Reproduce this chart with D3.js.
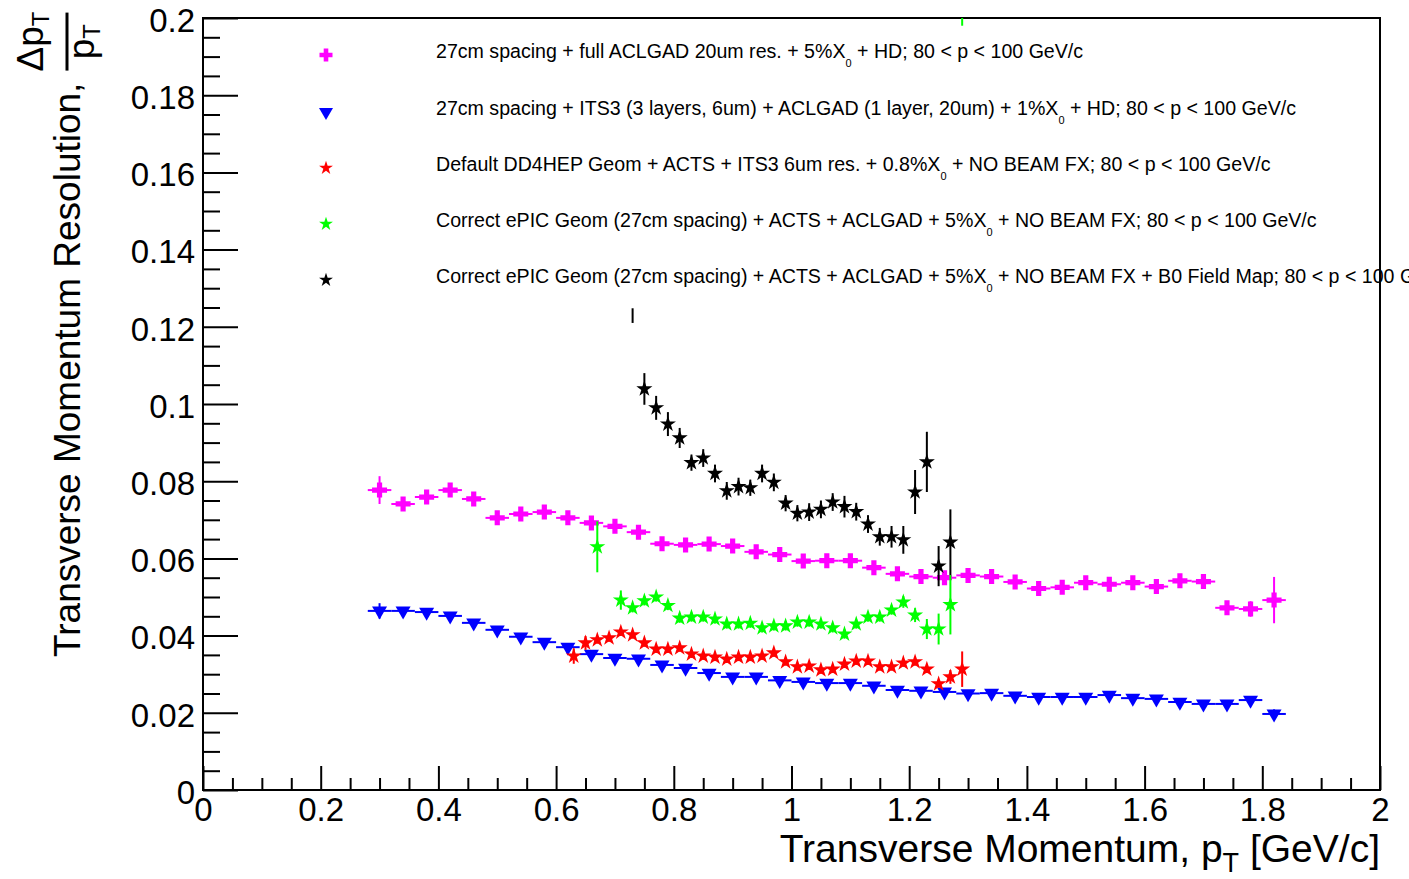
<!DOCTYPE html>
<html>
<head>
<meta charset="utf-8">
<script src="https://cdn.jsdelivr.net/npm/d3@7"></script>
<style>
    body { margin: 0; background: #fff; }
    text { font-family: "Liberation Sans", Arial, Helvetica, sans-serif; fill: #000; }
</style>
</head>
<body>
<svg id="chart" width="1409" height="879"></svg>
<script>
// bin centres and values
const wideX = [0.30, 0.34, 0.38, 0.42, 0.46, 0.50, 0.54, 0.58, 0.62, 0.66, 0.70, 0.74, 0.78,
    0.82, 0.86, 0.90, 0.94, 0.98, 1.02, 1.06, 1.10, 1.14, 1.18, 1.22, 1.26, 1.30, 1.34, 1.38,
    1.42, 1.46, 1.50, 1.54, 1.58, 1.62, 1.66, 1.70, 1.74, 1.78, 1.82];

const magentaY = [0.0777, 0.0741, 0.0759, 0.0777, 0.0754, 0.0705, 0.0715, 0.0720, 0.0705, 0.0692,
    0.0683, 0.0668, 0.0638, 0.0635, 0.0637, 0.0632, 0.0617, 0.0610, 0.0593, 0.0594, 0.0594, 0.0576,
    0.0560, 0.0553, 0.0550, 0.0556, 0.0553, 0.0539, 0.0522, 0.0525, 0.0537, 0.0533, 0.0537, 0.0527,
    0.0542, 0.0540, 0.0472, 0.0469, 0.0492];
const magentaErr = [0.0036, 0.0012, 0.0012, 0.0012, 0.0012, 0.0012, 0.0012, 0.0012, 0.0012, 0.0012,
    0.0012, 0.0012, 0.0012, 0.0012, 0.0012, 0.0012, 0.0012, 0.0012, 0.0012, 0.0012, 0.0012, 0.0012,
    0.0012, 0.0012, 0.0012, 0.0012, 0.0012, 0.0012, 0.0012, 0.0012, 0.0012, 0.0012, 0.0012, 0.0012,
    0.0012, 0.0012, 0.0015, 0.0020, 0.0060];

const blueY = [0.0464, 0.0464, 0.0461, 0.0451, 0.0433, 0.0415, 0.0397, 0.0383, 0.0370, 0.0352,
    0.0342, 0.0340, 0.0324, 0.0316, 0.0303, 0.0293, 0.0293, 0.0284, 0.0280, 0.0277, 0.0277, 0.0270,
    0.0259, 0.0257, 0.0254, 0.0250, 0.0251, 0.0244, 0.0241, 0.0241, 0.0241, 0.0246, 0.0238, 0.0236,
    0.0228, 0.0223, 0.0223, 0.0233, 0.0197];
const blueErr = [0.0020, 0.0008, 0.0008, 0.0008, 0.0008, 0.0008, 0.0008, 0.0008, 0.0008, 0.0008,
    0.0008, 0.0008, 0.0008, 0.0008, 0.0008, 0.0008, 0.0008, 0.0008, 0.0008, 0.0008, 0.0008, 0.0008,
    0.0008, 0.0008, 0.0008, 0.0008, 0.0008, 0.0008, 0.0008, 0.0008, 0.0008, 0.0008, 0.0008, 0.0008,
    0.0008, 0.0008, 0.0008, 0.0008, 0.0012];

const redX = [0.63, 0.65, 0.67, 0.69, 0.71, 0.73, 0.75, 0.77, 0.79, 0.81, 0.83, 0.85, 0.87, 0.89,
    0.91, 0.93, 0.95, 0.97, 0.99, 1.01, 1.03, 1.05, 1.07, 1.09, 1.11, 1.13, 1.15, 1.17, 1.19, 1.21,
    1.23, 1.25, 1.27, 1.29];
const redY = [0.0347, 0.0381, 0.0389, 0.0394, 0.0409, 0.0402, 0.0381, 0.0365, 0.0365, 0.0368,
    0.0352, 0.0347, 0.0344, 0.0339, 0.0344, 0.0344, 0.0347, 0.0355, 0.0332, 0.0319, 0.0321, 0.0311,
    0.0313, 0.0326, 0.0334, 0.0334, 0.0319, 0.0319, 0.0329, 0.0332, 0.0313, 0.0275, 0.0293, 0.0313];
const redErr = [0.0020, 0.0018, 0.0010, 0.0010, 0.0010, 0.0010, 0.0010, 0.0010, 0.0010, 0.0010,
    0.0010, 0.0010, 0.0010, 0.0010, 0.0010, 0.0010, 0.0010, 0.0010, 0.0010, 0.0010, 0.0010, 0.0010,
    0.0010, 0.0010, 0.0010, 0.0010, 0.0010, 0.0010, 0.0010, 0.0010, 0.0010, 0.0010, 0.0018, 0.0046];

const greenX = [0.67, 0.71, 0.73, 0.75, 0.77, 0.79, 0.81, 0.83, 0.85, 0.87, 0.89, 0.91, 0.93, 0.95,
    0.97, 0.99, 1.01, 1.03, 1.05, 1.07, 1.09, 1.11, 1.13, 1.15, 1.17, 1.19, 1.21, 1.23, 1.25, 1.27, 1.29];
const greenY = [0.0630, 0.0492, 0.0472, 0.0490, 0.0500, 0.0478, 0.0445, 0.0448, 0.0448, 0.0443,
    0.0430, 0.0430, 0.0432, 0.0420, 0.0425, 0.0425, 0.0435, 0.0435, 0.0430, 0.0420, 0.0404, 0.0430,
    0.0448, 0.0448, 0.0466, 0.0487, 0.0453, 0.0417, 0.0417, 0.0480, 0.2050];
const greenErr = [0.0066, 0.0025, 0.0012, 0.0012, 0.0012, 0.0012, 0.0012, 0.0012, 0.0012, 0.0012,
    0.0012, 0.0012, 0.0012, 0.0012, 0.0012, 0.0012, 0.0012, 0.0012, 0.0012, 0.0012, 0.0012, 0.0012,
    0.0012, 0.0012, 0.0012, 0.0015, 0.0018, 0.0026, 0.0040, 0.0077, 0.0070];

const blackX = [0.75, 0.77, 0.79, 0.81, 0.83, 0.85, 0.87, 0.89, 0.91, 0.93, 0.95, 0.97, 0.99, 1.01,
    1.03, 1.05, 1.07, 1.09, 1.11, 1.13, 1.15, 1.17, 1.19, 1.21, 1.23, 1.25, 1.27];
const blackY = [0.1039, 0.0990, 0.0948, 0.0912, 0.0848, 0.0860, 0.0820, 0.0775, 0.0786, 0.0783,
    0.0820, 0.0797, 0.0743, 0.0717, 0.0720, 0.0727, 0.0746, 0.0734, 0.0721, 0.0689, 0.0656, 0.0656,
    0.0648, 0.0772, 0.0850, 0.0580, 0.0642];
const blackErr = [0.0041, 0.0031, 0.0031, 0.0026, 0.0021, 0.0023, 0.0023, 0.0023, 0.0023, 0.0021,
    0.0023, 0.0023, 0.0021, 0.0021, 0.0023, 0.0023, 0.0023, 0.0028, 0.0023, 0.0023, 0.0023, 0.0028,
    0.0036, 0.0057, 0.0078, 0.0052, 0.0085];

// lone black error segment with no marker drawn
const blackStrayX = [0.73];
const blackStrayY = [0.1229];
const blackStrayErr = [0.0019];

const xMajor = [0, 0.2, 0.4, 0.6, 0.8, 1, 1.2, 1.4, 1.6, 1.8, 2];
const xMinor = [0.05, 0.1, 0.15, 0.25, 0.3, 0.35, 0.45, 0.5, 0.55, 0.65, 0.7, 0.75, 0.85, 0.9, 0.95,
    1.05, 1.1, 1.15, 1.25, 1.3, 1.35, 1.45, 1.5, 1.55, 1.65, 1.7, 1.75, 1.85, 1.9, 1.95];
const xLabels = ["0", "0.2", "0.4", "0.6", "0.8", "1", "1.2", "1.4", "1.6", "1.8", "2"];
const yMajor = [0, 0.02, 0.04, 0.06, 0.08, 0.1, 0.12, 0.14, 0.16, 0.18, 0.2];
const yMinor = [0.005, 0.01, 0.015, 0.025, 0.03, 0.035, 0.045, 0.05, 0.055, 0.065, 0.07, 0.075,
    0.085, 0.09, 0.095, 0.105, 0.11, 0.115, 0.125, 0.13, 0.135, 0.145, 0.15, 0.155, 0.165, 0.17,
    0.175, 0.185, 0.19, 0.195];
const yLabels = ["0", "0.02", "0.04", "0.06", "0.08", "0.1", "0.12", "0.14", "0.16", "0.18", "0.2"];

const legendBefore = [
    "27cm spacing + full ACLGAD 20um res. + 5%X",
    "27cm spacing + ITS3 (3 layers, 6um) + ACLGAD (1 layer, 20um) + 1%X",
    "Default DD4HEP Geom + ACTS + ITS3 6um res. + 0.8%X",
    "Correct ePIC Geom (27cm spacing) + ACTS + ACLGAD + 5%X",
    "Correct ePIC Geom (27cm spacing) + ACTS + ACLGAD + 5%X"
];
const legendAfter = [
    " + HD; 80 < p < 100 GeV/c",
    " + HD; 80 < p < 100 GeV/c",
    " + NO BEAM FX; 80 < p < 100 GeV/c",
    " + NO BEAM FX; 80 < p < 100 GeV/c",
    " + NO BEAM FX + B0 Field Map; 80 < p < 100 GeV/c"
];

const width = 1409;
const height = 879;
const margin = { top: 18, right: 29, bottom: 89, left: 203 };

const svg = d3.select("#chart");

const x = d3.scaleLinear().domain([0, 2]).range([margin.left, width - margin.right]);
const y = d3.scaleLinear().domain([0, 0.2]).range([height - margin.bottom, margin.top]);

svg.append("defs").append("clipPath").attr("id", "plotClip")
    .append("rect")
    .attr("x", x(0)).attr("y", y(0.2))
    .attr("width", x(2) - x(0)).attr("height", y(0) - y(0.2));

// markers
function crossPath(a, t) {
    return `M${-a},${-t}H${-t}V${-a}H${t}V${-t}H${a}V${t}H${t}V${a}H${-t}V${t}H${-a}Z`;
}
function triDownPath(w, h) {
    return `M${-w / 2},${-h / 3}L${w / 2},${-h / 3}L0,${2 * h / 3}Z`;
}
const markerCross = crossPath(7.5, 2.6);
const markerTri = triDownPath(15, 13);
const markerStar = d3.symbol(d3.symbolStar, 80)();

// axes
const tickFont = "33px";

svg.append("g")
    .attr("transform", `translate(0,${y(0)})`)
    .call(d3.axisBottom(x).tickValues(xMinor).tickSize(-12).tickFormat(""))
    .call(g => g.select(".domain").remove())
    .call(g => g.selectAll("line").attr("stroke-width", 2));

svg.append("g")
    .attr("transform", `translate(0,${y(0)})`)
    .call(d3.axisBottom(x).tickValues(xMajor).tickSize(-24).tickPadding(8)
        .tickFormat((d, i) => xLabels[i]))
    .call(g => g.select(".domain").remove())
    .call(g => g.selectAll("line").attr("stroke-width", 2))
    .call(g => g.selectAll("text").style("font-size", tickFont).attr("fill", "#000"));

svg.append("g")
    .attr("transform", `translate(${x(0)},0)`)
    .call(d3.axisLeft(y).tickValues(yMinor).tickSize(-17).tickFormat(""))
    .call(g => g.select(".domain").remove())
    .call(g => g.selectAll("line").attr("stroke-width", 2));

svg.append("g")
    .attr("transform", `translate(${x(0)},0)`)
    .call(d3.axisLeft(y).tickValues(yMajor).tickSize(-35).tickPadding(8)
        .tickFormat((d, i) => yLabels[i]))
    .call(g => g.select(".domain").remove())
    .call(g => g.selectAll("line").attr("stroke-width", 2))
    .call(g => g.selectAll("text").style("font-size", tickFont).attr("dy", "0.4em").attr("fill", "#000"));

svg.append("rect")
    .attr("x", x(0)).attr("y", y(0.2))
    .attr("width", x(2) - x(0)).attr("height", y(0) - y(0.2))
    .attr("fill", "none").attr("stroke", "#000").attr("stroke-width", 2);

// series
const plot = svg.append("g").attr("clip-path", "url(#plotClip)");

function drawSeries(xs, ys, es, color, marker, halfWidth, showMarker = true) {
    const rows = xs.map((xv, i) => ({ x: xv, y: ys[i], e: es[i] }));
    const g = plot.append("g");

    g.selectAll(".ev").data(rows).enter().append("line")
        .attr("x1", d => x(d.x)).attr("x2", d => x(d.x))
        .attr("y1", d => y(d.y - d.e)).attr("y2", d => y(d.y + d.e))
        .attr("stroke", color).attr("stroke-width", 2);

    if (halfWidth > 0) {
        g.selectAll(".eh").data(rows).enter().append("line")
            .attr("x1", d => x(d.x - halfWidth)).attr("x2", d => x(d.x + halfWidth))
            .attr("y1", d => y(d.y)).attr("y2", d => y(d.y))
            .attr("stroke", color).attr("stroke-width", 2);
    }

    if (showMarker) {
        g.selectAll(".pt").data(rows).enter().append("path")
            .attr("d", marker)
            .attr("transform", d => `translate(${x(d.x)},${y(d.y)})`)
            .attr("fill", color);
    }
}

drawSeries(wideX, magentaY, magentaErr, "#ff00ff", markerCross, 0.02);
drawSeries(wideX, blueY, blueErr, "#0000ff", markerTri, 0.02);
drawSeries(redX, redY, redErr, "#ff0000", markerStar, 0);
drawSeries(greenX, greenY, greenErr, "#00ff00", markerStar, 0);
drawSeries(blackX, blackY, blackErr, "#000000", markerStar, 0);
drawSeries(blackStrayX, blackStrayY, blackStrayErr, "#000000", markerStar, 0, false);

// legend
const legendColors = ["#ff00ff", "#0000ff", "#ff0000", "#00ff00", "#000000"];
const legendStar = d3.symbol(d3.symbolStar, 60)();
const legendMarkers = [crossPath(6.5, 2.3), triDownPath(14, 12), legendStar, legendStar, legendStar];
const legendBase = [58, 115, 171, 227, 283];

legendBefore.forEach((txt, i) => {
    svg.append("path")
        .attr("d", legendMarkers[i])
        .attr("transform", `translate(326,${legendBase[i] - 3})`)
        .attr("fill", legendColors[i]);

    const t = svg.append("text")
        .attr("x", 436).attr("y", legendBase[i])
        .style("font-size", "19.6px");
    t.append("tspan").text(txt);
    t.append("tspan").attr("dy", 9).style("font-size", "11px").text("0");
    t.append("tspan").attr("dy", -9).text(legendAfter[i]);
});

// axis titles
const xt = svg.append("text")
    .attr("x", x(2)).attr("y", 862)
    .attr("text-anchor", "end")
    .style("font-size", "39px");
xt.append("tspan").text("Transverse Momentum, p");
xt.append("tspan").attr("dy", 10).style("font-size", "27px").text("T");
xt.append("tspan").attr("dy", -10).text(" [GeV/c]");

const yt = svg.append("g").attr("transform", "translate(80,657) rotate(-90)");
const yMain = yt.append("text")
    .style("font-size", "37px")
    .text("Transverse Momentum Resolution,");
const mainLen = yMain.node().getComputedTextLength();
const fracX = mainLen + 12;
const fracW = 58;

const num = yt.append("text")
    .attr("x", fracX + fracW / 2).attr("y", -37)
    .attr("text-anchor", "middle")
    .style("font-size", "37px");
num.append("tspan").text("Δp");
num.append("tspan").attr("dy", 6).style("font-size", "24px").text("T");

yt.append("line")
    .attr("x1", fracX).attr("x2", fracX + fracW)
    .attr("y1", -13).attr("y2", -13)
    .attr("stroke", "#000").attr("stroke-width", 3);

const den = yt.append("text")
    .attr("x", fracX + fracW / 2).attr("y", 14)
    .attr("text-anchor", "middle")
    .style("font-size", "37px");
den.append("tspan").text("p");
den.append("tspan").attr("dy", 6).style("font-size", "24px").text("T");
</script>
</body>
</html>
